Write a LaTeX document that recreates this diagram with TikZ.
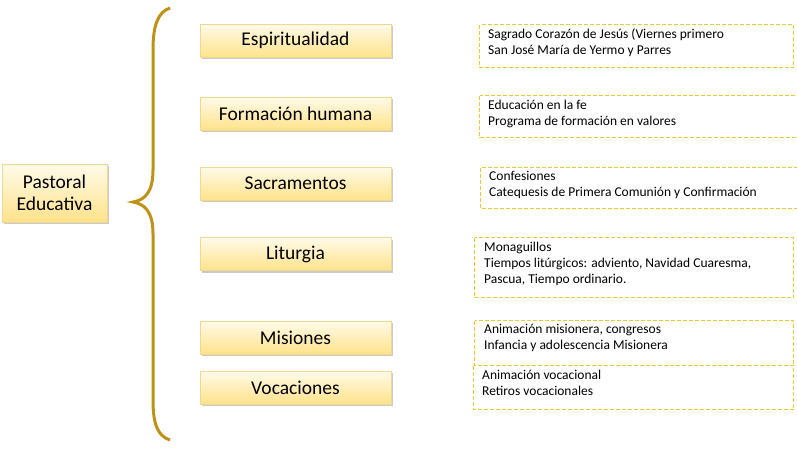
\documentclass[tikz,border=0pt]{standalone}
\usepackage{fontspec}
\setmainfont{Carlito}
\usetikzlibrary{shadows}
\definecolor{bracecol}{HTML}{BF9116}
\definecolor{boxtop}{HTML}{FFFBEA}
\definecolor{boxbot}{HTML}{FFE28A}
\definecolor{boxline}{HTML}{F0D890}
\definecolor{dashcol}{HTML}{EDCB30}
\tikzset{
  mainbox/.style={draw=boxline, line width=0.6pt, top color=boxtop, bottom color=boxbot,
    drop shadow={shadow xshift=1.5pt, shadow yshift=-2pt, opacity=0.35, fill=black!60},
    inner sep=0pt, font=\fontsize{19.5}{22}\selectfont, align=center},
  detbox/.style={draw=dashcol, dash pattern=on 4pt off 2pt, line width=1.2pt,
    inner sep=0pt},
  dettext/.style={font=\fontsize{13.5}{16}\selectfont, align=left, anchor=north west, inner sep=0pt},
}
\begin{document}
\begin{tikzpicture}[x=1pt,y=-1pt]
\useasboundingbox (0,0) rectangle (797,448);
% main box
\node[mainbox, minimum width=105pt, minimum height=58pt] (pe) at (54.5,193) {Pastoral\\Educativa};
% brace
\coordinate (btop) at (170,8);
\coordinate (bbot) at (170,440);
\coordinate (btip) at (133,202);
\draw[bracecol, line width=3pt]
  (btop) .. controls (158,12) and (153,25) .. (153,50)
  -- (153,170) .. controls (153,192) and (145,200) .. (btip)
  .. controls (145,204) and (153,212) .. (153,234)
  -- (153,400) .. controls (153,425) and (158,436) .. (bbot);
% category boxes
\foreach \n/\y/\t in {e/40.5/Espiritualidad, f/113.5/Formación humana, s/183.5/Sacramentos,
                      l/254/Liturgia, m/337.5/Misiones, v/387.5/Vocaciones}{
  \node[mainbox, minimum width=191pt, minimum height=33pt] (\n) at (295.5,\y) {\t};
}
% detail boxes
\draw[detbox] (479.5,24.5) rectangle (793.5,67.5);
\node[dettext] (d1) at (488,28.5) {Sagrado Corazón de Jesús (Viernes primero\\San José María de Yermo y Parres};
\draw[detbox] (479.5,95.5) rectangle (799,137.5);
\node[dettext] (d2) at (488,99.5) {Educación en la fe\\Programa de formación en valores};
\draw[detbox] (480.5,167.5) rectangle (799,208.5);
\node[dettext] (d3) at (489,171.5) {Confesiones\\Catequesis de Primera Comunión y Confirmación};
\draw[detbox] (474.5,237.5) rectangle (793.5,297.5);
\node[dettext] (d4) at (484,241.5) {Monaguillos\\Tiempos litúrgicos: adviento, Navidad Cuaresma,\\Pascua, Tiempo ordinario.};
\draw[detbox] (474.5,320.5) rectangle (793.5,365.5);
\node[dettext] (d5) at (484,324.5) {Animación misionera, congresos\\Infancia y adolescencia Misionera};
\draw[detbox] (473.5,365.5) rectangle (793.5,409.5);
\node[dettext] (d6) at (482,369.5) {Animación vocacional\\Retiros vocacionales};
\end{tikzpicture}
\end{document}
